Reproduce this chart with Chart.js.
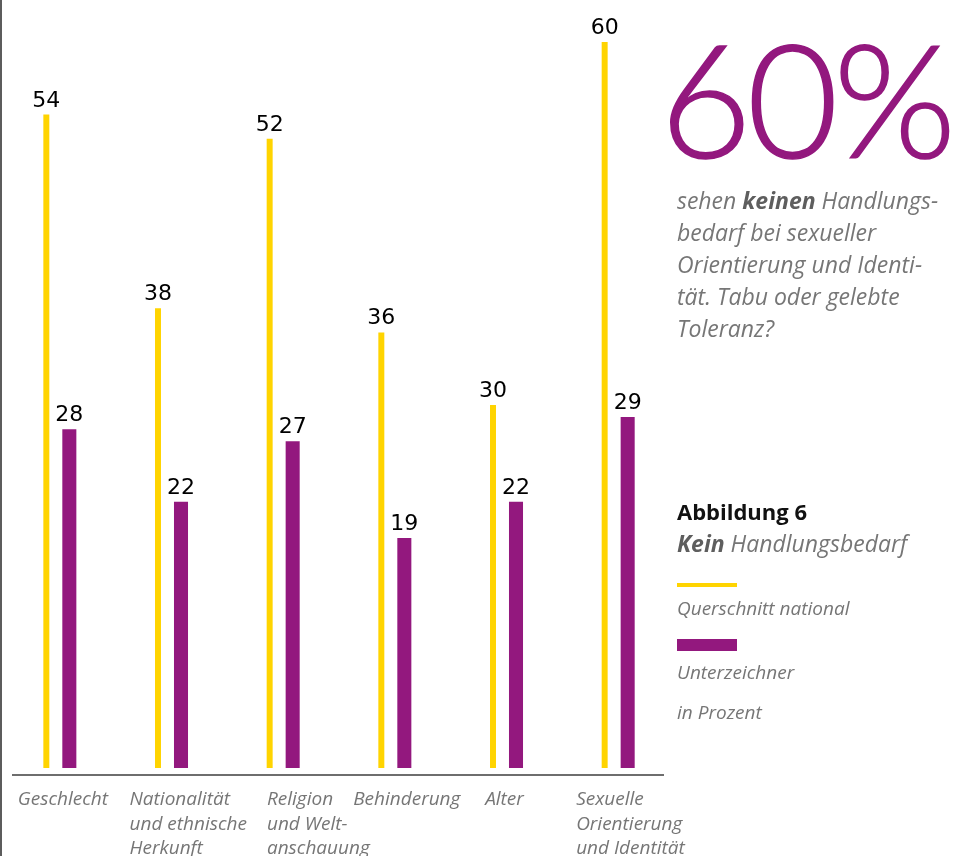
<!DOCTYPE html>
<html lang="de">
<head>
<meta charset="utf-8">
<title>Kein Handlungsbedarf</title>
<script src="https://cdn.jsdelivr.net/npm/chart.js@4/dist/chart.umd.min.js"></script>
<style>
  html, body { margin: 0; padding: 0; background: #fff; }
  #wrap { position: relative; width: 960px; height: 856px; overflow: hidden; }
  #wrap canvas { position: absolute; left: 0; top: 0; }
  #edge { position: absolute; left: 0; top: 0; width: 2px; height: 856px; background: #5c5c5c; }
  .side { position: absolute; left: 677px; color: #767676; font-family: "Open Sans", sans-serif; }
  #big { top: 18px; left: 660px; font-family: Lato, "Open Sans", sans-serif; font-weight: 300;
         font-size: 158px; line-height: 158px; color: #93187e; letter-spacing: -5px; white-space: nowrap;
         -webkit-text-stroke: 1.5px #93187e; }
  #note { top: 184px; font-style: italic; font-size: 23px; line-height: 32px; white-space: nowrap; }
  #note b { color: #5e5e5e; }
  #legendBox { top: 495px; white-space: nowrap; }
  #legendBox .title { font-weight: 700; color: #111; font-size: 22px; line-height: 32px; }
  #legendBox .sub { font-style: italic; font-size: 23px; line-height: 32px; }
  #legendBox .sub b { color: #5e5e5e; }
  .swatch { width: 60px; margin-top: 24px; }
  .swatch + .lab { margin-top: 8px; }
  .lab { font-style: italic; font-size: 19px; line-height: 26px; }
  .unit { margin-top: 14px; }
</style>
</head>
<body>
<div id="wrap">
  <canvas id="myChart" width="960" height="856"></canvas>
  <div id="edge"></div>
  <div class="side" id="big">60%</div>
  <div class="side" id="note">sehen <b>keinen</b> Handlungs-<br>bedarf bei sexueller<br>Orientierung und Identi-<br>tät. Tabu oder gelebte<br>Toleranz?</div>
  <div class="side" id="legendBox">
    <div class="title">Abbildung 6</div>
    <div class="sub"><b>Kein</b> Handlungsbedarf</div>
    <div id="legendItems"></div>
    <div class="lab unit">in Prozent</div>
  </div>
</div>
<script>
const categories = [
  ['Geschlecht'],
  ['Nationalität', 'und ethnische', 'Herkunft'],
  ['Religion', 'und Welt-', 'anschauung'],
  ['Behinderung'],
  ['Alter'],
  ['Sexuelle', 'Orientierung', 'und Identität']
];
const national = [54, 38, 52, 36, 30, 60];
const signers = [28, 22, 27, 19, 22, 29];

const YELLOW = '#ffd400';
const PURPLE = '#93187e';

// value on top of each bar
const valueLabels = {
  id: 'valueLabels',
  afterDatasetsDraw(chart) {
    const ctx = chart.ctx;
    ctx.save();
    ctx.font = '22px "DejaVu Sans", sans-serif';
    ctx.fillStyle = '#000';
    ctx.textAlign = 'center';
    ctx.textBaseline = 'alphabetic';
    chart.data.datasets.forEach((ds, di) => {
      chart.getDatasetMeta(di).data.forEach((bar, i) => {
        ctx.fillText(String(ds.data[i]), bar.x, bar.y - 8);
      });
    });
    ctx.restore();
  }
};

// baseline rule and left aligned category names under it;
// a name block starts a bit left of its tick and is pushed right
// if a line would run into the line of the previous block
const categoryAxis = {
  id: 'categoryAxis',
  afterDraw(chart) {
    const {ctx, chartArea} = chart;
    const xs = chart.scales.x;
    const lineY = chartArea.bottom + 7;
    ctx.save();
    ctx.strokeStyle = '#6e6e6e';
    ctx.lineWidth = 2;
    ctx.beginPath();
    ctx.moveTo(chartArea.left + 10, lineY);
    ctx.lineTo(chartArea.right - 8, lineY);
    ctx.stroke();

    ctx.font = 'italic 19px "Open Sans", sans-serif';
    ctx.fillStyle = '#767676';
    ctx.textAlign = 'left';
    ctx.textBaseline = 'middle';
    const gap = 20;
    const rowEnd = [];
    categories.forEach((lines, i) => {
      const widths = lines.map(l => ctx.measureText(l).width);
      const w = Math.max(...widths);
      let x = xs.getPixelForValue(i) - Math.min(w / 2, 40);
      lines.forEach((l, k) => {
        if (rowEnd[k] !== undefined) x = Math.max(x, rowEnd[k] + gap);
      });
      lines.forEach((l, k) => {
        ctx.fillText(l, x, lineY + 25 + k * 24.5);
        rowEnd[k] = x + widths[k];
      });
    });
    ctx.restore();
  }
};

const data = {
  labels: categories.map(c => c.join(' ')),
  datasets: [{
    label: 'Querschnitt national',
    data: national,
    backgroundColor: YELLOW,
    barPercentage: 0.26,
    categoryPercentage: 0.412,
    swatch: 4
  }, {
    label: 'Unterzeichner',
    data: signers,
    backgroundColor: PURPLE,
    barPercentage: 0.61,
    categoryPercentage: 0.412,
    swatch: 12
  }]
};

const config = {
  type: 'bar',
  data: data,
  options: {
    responsive: false,
    animation: false,
    devicePixelRatio: 1,
    layout: { padding: { left: 2, right: 288, top: 42, bottom: 88 } },
    scales: {
      x: { display: false },
      y: { display: false, min: 0, max: 60 }
    },
    plugins: {
      legend: { display: false },
      tooltip: { enabled: false }
    }
  },
  plugins: [valueLabels, categoryAxis]
};

const myChart = new Chart(document.getElementById('myChart'), config);

// legend beside the chart, built from the datasets
const legendItems = document.getElementById('legendItems');
myChart.data.datasets.forEach(ds => {
  const sw = document.createElement('div');
  sw.className = 'swatch';
  sw.style.height = ds.swatch + 'px';
  sw.style.background = ds.backgroundColor;
  const lab = document.createElement('div');
  lab.className = 'lab';
  lab.textContent = ds.label;
  legendItems.appendChild(sw);
  legendItems.appendChild(lab);
});
document.querySelectorAll('#legendItems .swatch')[1].style.marginTop = '18px';
</script>
</body>
</html>
